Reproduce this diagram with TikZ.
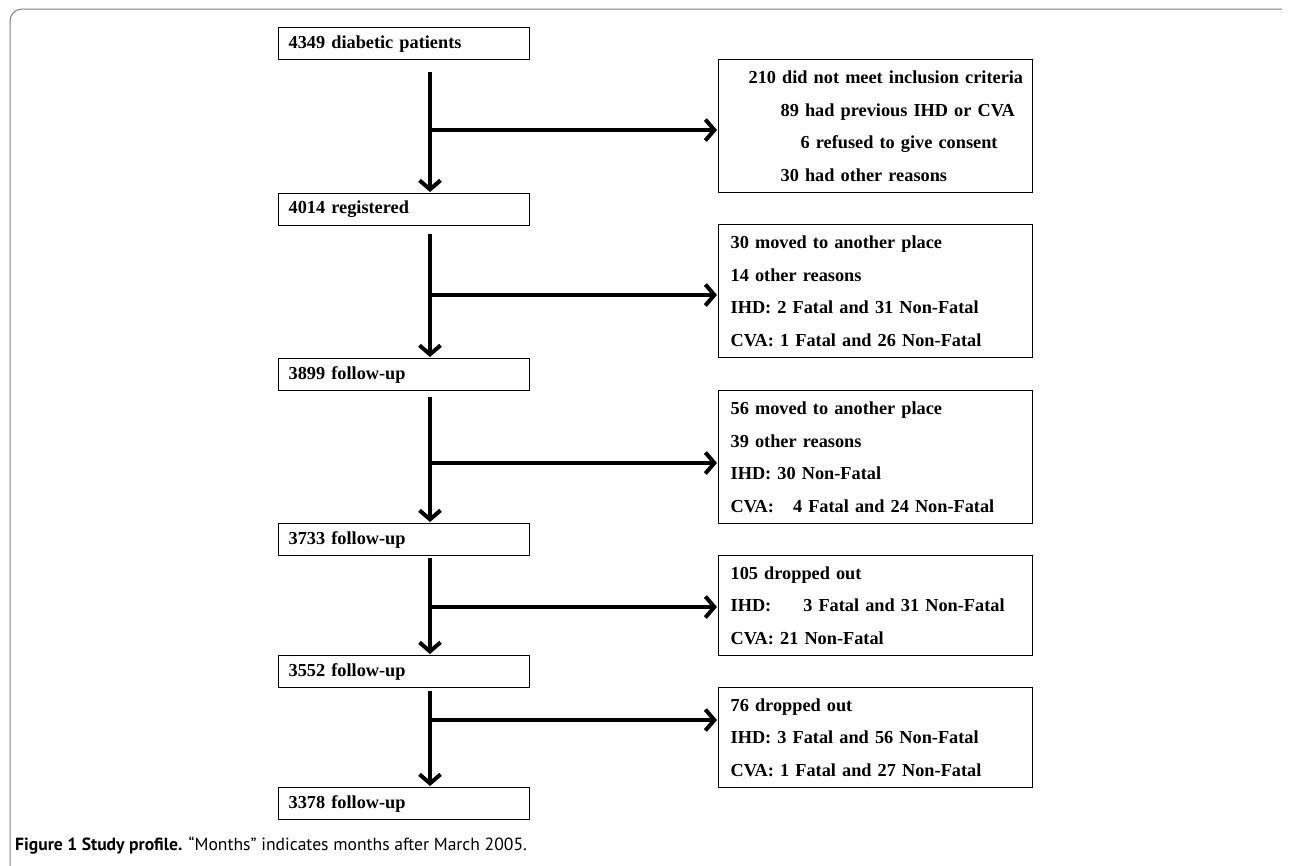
\documentclass[tikz,border=0pt]{standalone}
\usepackage{fontspec}
\setmainfont{Liberation Serif}
\newfontfamily\capfont{PT Sans}
\usetikzlibrary{arrows.meta}

\tikzset{
	stagebox/.style={draw, line width=1.3pt, anchor=north west, minimum width=251pt, minimum height=32pt, text width=231pt, inner xsep=10pt, inner ysep=0pt, align=left, font=\fontsize{18.3}{20}\bfseries\selectfont},
	lossbox/.style={draw, line width=1.3pt, anchor=north west, minimum width=314pt, text width=290pt, inner xsep=12pt, inner ysep=0pt, align=left, font=\fontsize{18.3}{32.5}\bfseries\selectfont},
	flow/.style={line width=4pt, shorten >=1pt, -{Straight Barb[length=9pt,width=21pt]}}
}

\begin{document}
\begin{tikzpicture}[x=1pt, y=-1pt]
			%%%%% FRAME %%%%%
			\useasboundingbox (0,0) rectangle (1289,865);
			\draw[black!50, line width=1pt, rounded corners=12pt] (10,866) |- (1282,9);
			
			%%%%% STAGES %%%%%
			\node[stagebox] (b1) at (278,27) {4349 diabetic patients};
			\node[stagebox] (b2) at (278,193) {4014 registered};
			\node[stagebox] (b3) at (278,358) {3899 follow-up};
			\node[stagebox] (b4) at (278,523) {3733 follow-up};
			\node[stagebox] (b5) at (278,655) {3552 follow-up};
			\node[stagebox] (b6) at (278,787) {3378 follow-up};
			
			%%%%% LOSSES %%%%%
			\node[lossbox, minimum height=133pt] (s1) at (718,59) {\hspace*{18pt}\mbox{210 did not meet inclusion criteria}\\
				\hspace*{50pt}89 had previous IHD or CVA\\
				\hspace*{70pt}6 refused to give consent\\
				\hspace*{50pt}30 had other reasons};
			\node[lossbox, minimum height=133pt] (s2) at (718,224) {30 moved to another place\\
				14 other reasons\\
				IHD: 2 Fatal and 31 Non-Fatal\\
				CVA: 1 Fatal and 26 Non-Fatal};
			\node[lossbox, minimum height=133pt] (s3) at (718,390) {56 moved to another place\\
				39 other reasons\\
				IHD: 30 Non-Fatal\\
				CVA:\hspace{19pt}4 Fatal and 24 Non-Fatal};
			\node[lossbox, minimum height=100pt] (s4) at (718,555) {105 dropped out\\
				IHD:\hspace{32pt}3 Fatal and 31 Non-Fatal\\
				CVA: 21 Non-Fatal};
			\node[lossbox, minimum height=100pt] (s5) at (718,687) {76 dropped out\\
				IHD: 3 Fatal and 56 Non-Fatal\\
				CVA: 1 Fatal and 27 Non-Fatal};
			
			%%%%% ARROWS %%%%%
			\coordinate (spine) at (430,0);
			\draw[flow] ([yshift=-12pt]b1.south -| spine) -- (b2.north -| spine);
			\draw[flow] ([yshift=-8pt]b2.south -| spine) -- (b3.north -| spine);
			\draw[flow] ([yshift=-6pt]b3.south -| spine) -- (b4.north -| spine);
			\draw[flow] ([yshift=-2pt]b4.south -| spine) -- (b5.north -| spine);
			\draw[flow] ([yshift=-3pt]b5.south -| spine) -- (b6.north -| spine);
			
			\coordinate (j1) at (430,130);
			\coordinate (j2) at (430,295);
			\coordinate (j3) at (430,463);
			\coordinate (j4) at (430,607);
			\coordinate (j5) at (430,720);
			\draw[flow] (j1) -- (j1 -| s1.west);
			\draw[flow] (j2) -- (j2 -| s2.west);
			\draw[flow] (j3) -- (j3 -| s3.west);
			\draw[flow] (j4) -- (j4 -| s4.west);
			\draw[flow] (j5) -- (j5 -| s5.west);
			
			%%%%% CAPTION %%%%%
			\node[anchor=west, inner sep=0pt, font=\capfont\fontsize{17.6}{20}\selectfont] (cap) at (15,846) {\textbf{Figure 1 Study profile.} “Months” indicates months after March 2005.};
		\end{tikzpicture}
\end{document}
